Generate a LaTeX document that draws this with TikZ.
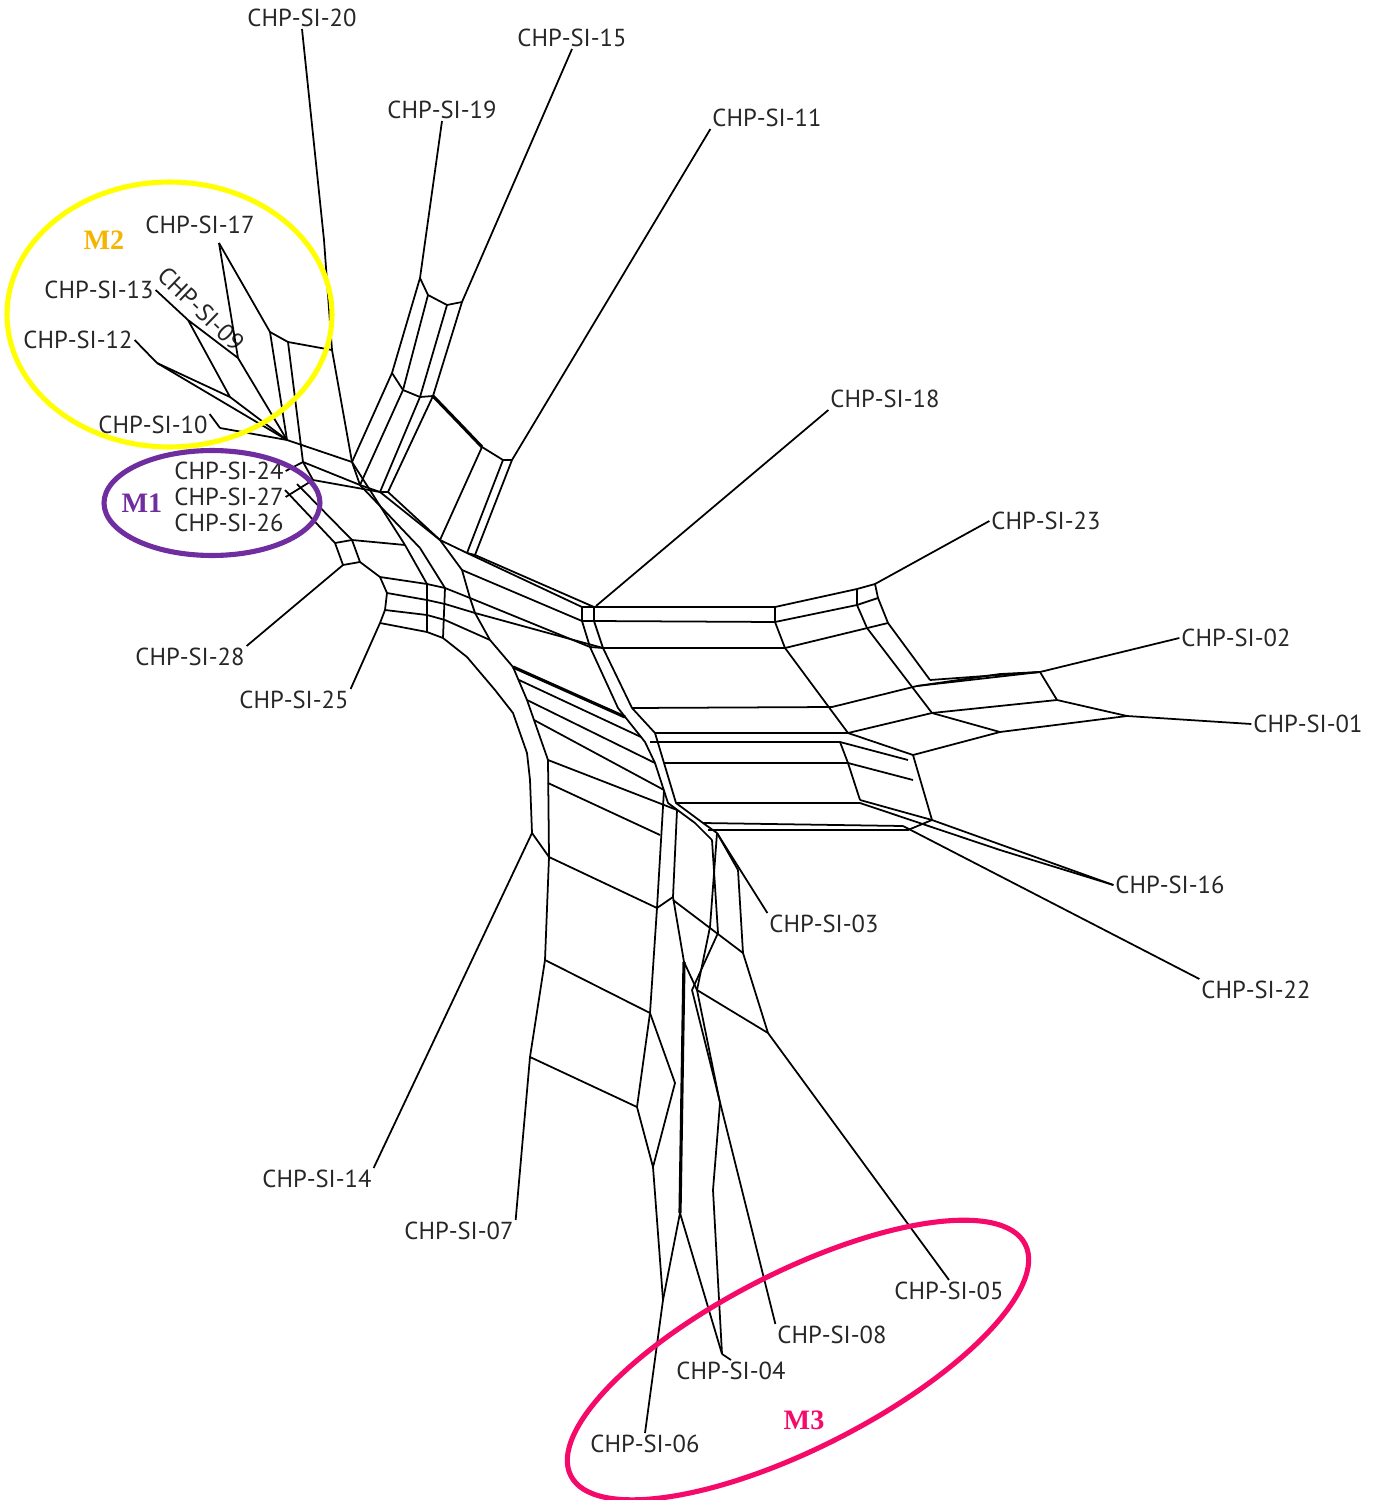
\documentclass[tikz,border=0pt]{standalone}
\usepackage{fontspec}
\setmainfont{Liberation Serif}
\newfontfamily\leaffont{PT Sans}
\usetikzlibrary{positioning}
\definecolor{mtwo}{HTML}{F5B400}
\definecolor{mone}{HTML}{6F2DA0}
\definecolor{mthree}{HTML}{F50A6A}
\definecolor{ringyellow}{HTML}{FFFF00}
\tikzset{
  leaf/.style={font=\leaffont\fontsize{14}{16}\selectfont, text=black!85, inner sep=1pt},
  net/.style={draw=black, line width=1pt, line join=round},
  netthick/.style={draw=black, line width=1.8pt, line join=round},
  ring/.style={line width=2.9pt},
  grouplabel/.style={font=\bfseries\fontsize{16}{18}\selectfont}
}
\begin{document}
\begin{tikzpicture}[x=0.02cm,y=-0.02cm]
\useasboundingbox (0,0) rectangle (1377,1500);

% leaf labels
\node[leaf] (l20) at (302,18) {CHP-SI-20};
\node[leaf] (l15) at (572,38) {CHP-SI-15};
\node[leaf] (l19) at (442,110) {CHP-SI-19};
\node[leaf] (l11) at (767,118) {CHP-SI-11};
\node[leaf] (l17) at (200,225) {CHP-SI-17};
\node[leaf] (l13) at (99,290) {CHP-SI-13};
\node[leaf, rotate=-44] (l09) at (201,309) {CHP-SI-09};
\node[leaf] (l12) at (78,340) {CHP-SI-12};
\node[leaf] (l10) at (153,425) {CHP-SI-10};
\node[leaf] (l24) at (229,471) {CHP-SI-24};
\node[leaf] (l27) at (229,497) {CHP-SI-27};
\node[leaf] (l26) at (229,523) {CHP-SI-26};
\node[leaf] (l28) at (190,657) {CHP-SI-28};
\node[leaf] (l25) at (294,700) {CHP-SI-25};
\node[leaf] (l18) at (885,399) {CHP-SI-18};
\node[leaf] (l23) at (1046,521) {CHP-SI-23};
\node[leaf] (l02) at (1236,638) {CHP-SI-02};
\node[leaf] (l01) at (1308,724) {CHP-SI-01};
\node[leaf] (l16) at (1170,885) {CHP-SI-16};
\node[leaf] (l22) at (1256,990) {CHP-SI-22};
\node[leaf] (l03) at (824,924) {CHP-SI-03};
\node[leaf] (l14) at (317,1179) {CHP-SI-14};
\node[leaf] (l07) at (459,1231) {CHP-SI-07};
\node[leaf] (l05) at (949,1291) {CHP-SI-05};
\node[leaf] (l08) at (832,1335) {CHP-SI-08};
\node[leaf] (l04) at (731,1371) {CHP-SI-04};
\node[leaf] (l06) at (645,1444) {CHP-SI-06};

% split vertices at the ends of the pendant edges
\coordinate (t20) at (352,462);
\coordinate (t19) at (420,278);
\coordinate (t15) at (462,302);
\coordinate (t11) at (512,460);
\coordinate (t17) at (219,243);
\coordinate (t13) at (188,320);
\coordinate (t09) at (238,358);
\coordinate (t12) at (157,363);
\coordinate (t10) at (220,428);
\coordinate (hub) at (287,440);
\coordinate (t28) at (343,565);
\coordinate (t25) at (380,623);
\coordinate (t18) at (596,606);
\coordinate (t23) at (875,584);
\coordinate (t02) at (1040,672);
\coordinate (t01) at (1127,716);
\coordinate (t16) at (932,820);
\coordinate (t22) at (903,826);
\coordinate (t03) at (717,833);
\coordinate (t14) at (532,833);
\coordinate (t07) at (530,1057);
\coordinate (t06) at (663,1300);
\coordinate (t04) at (722,1354);
\coordinate (t08) at (692,990);
\coordinate (t05) at (768,1033);

% pendant edges
\draw[net] (l20.south) -- (324,240) -- (332,350) -- (t20);
\draw[net] (l19.south) -- (t19);
\draw[net] (l15.south) -- (t15);
\draw[net] (l11.south west) -- (t11);
\draw[net] (l13.east) -- (t13);
\draw[net] (l12.east) -- (t12);
\draw[net] (l10.north east) -- (t10);
\draw[net] (l28.north east) -- (t28);
\draw[net] (l25.north east) -- (t25);
\draw[net] (l18.south west) -- (t18);
\draw[net] (l23.west) -- (t23);
\draw[net] (l02.west) -- (t02);
\draw[net] (l01.west) -- (t01);
\draw[net] (l16.west) -- (t16);
\draw[net] (l22.north west) -- (t22);
\draw[net] (l03.north west) -- (t03);
\draw[net] (l14.north east) -- (t14);
\draw[net] (l07.north east) -- (t07);
\draw[net] (l05.north) -- (t05);
\draw[net] (l08.north west) -- (t08);
\draw[net] (l06.north) -- (t06);
\draw[net] (l04.north) -- (t04);

% M2 cluster
\draw[net] (t17) -- (t09) -- (t13) -- (230,397) -- (t12);
\draw[net] (t17) -- (270,332) -- (288,342) -- (332,350);
\draw[net] (t09) -- (hub);
\draw[net] (230,397) -- (hub);
\draw[net] (t12) -- (hub);
\draw[net] (t10) -- (hub);
\draw[net] (270,332) -- (hub);
\draw[net] (288,342) -- (303,462);

% M1 cluster
\draw[net] (l24.east) -- (303,462);
\draw[net] (l27.east) -- (313,480);
\draw[net] (285,490) -- (335,543);
\draw[net] (297,484) -- (352,540);
\draw[net] (335,543) -- (352,540) -- (360,562) -- (t28) -- cycle;

% 19 / 15 box
\draw[net] (t19) -- (428,295) -- (447,305) -- (t15);
\draw[net] (t19) -- (392,373) -- (t20);
\draw[net] (428,295) -- (403,390) -- (360,485);
\draw[net] (447,305) -- (420,397) -- (380,492);
\draw[net] (t15) -- (433,396) -- (388,492);
\draw[net] (392,373) -- (403,390) -- (420,397) -- (433,396);
\draw[net] (t20) -- (360,485) -- (380,492) -- (388,492);

% 11 box
\draw[netthick] (433,396) -- (460,424) -- (482,447);
\draw[net] (482,447) -- (503,460) -- (t11);
\draw[net] (482,447) -- (440,540);
\draw[net] (503,460) -- (467,553);
\draw[net] (t11) -- (475,555);
\draw[net] (388,492) -- (440,540) -- (467,553) -- (475,555);

% band from the hub to the core
\draw[net] (hub) -- (t20) -- (405,545);
\draw[net] (303,462) -- (360,485) -- (420,548);
\draw[net] (313,480) -- (380,492) -- (440,540);
\draw[net] (303,462) -- (313,480);

% core grid
\draw[net] (360,562) -- (380,577) -- (387,593) -- (385,610) -- (t25);
\draw[net] (380,577) -- (427,584) -- (445,588) -- (470,598);
\draw[net] (387,593) -- (427,600) -- (445,604) -- (475,613);
\draw[net] (385,610) -- (427,615) -- (445,620) -- (490,640);
\draw[net] (t25) -- (427,632) -- (443,638) -- (467,657) -- (495,690) -- (513,713) -- (527,753);
\draw[net] (405,545) -- (427,584) -- (427,632);
\draw[net] (420,548) -- (445,588) -- (443,638);
\draw[net] (440,540) -- (462,570) -- (470,598) -- (475,613) -- (490,640);
\draw[net] (352,540) -- (405,545);

% band to the upper block
\draw[net] (467,553) -- (582,607);
\draw[net] (475,555) -- (594,607);
\draw[net] (462,570) -- (582,621);
\draw[net] (470,598) -- (590,647);
\draw[net] (475,613) -- (603,648);

% upper block
\draw[net] (582,607) -- (594,607) -- (775,607) -- (857,589) -- (t23);
\draw[net] (582,621) -- (594,621) -- (775,622) -- (857,605) -- (878,598);
\draw[net] (590,647) -- (603,648) -- (785,648) -- (888,623);
\draw[net] (582,607) -- (582,621) -- (590,647);
\draw[net] (594,607) -- (594,621) -- (603,648);
\draw[net] (775,607) -- (775,622) -- (785,648) -- (848,733);
\draw[net] (857,589) -- (857,605) -- (867,628) -- (932,713);
\draw[net] (t23) -- (878,598) -- (888,623) -- (930,680);

% right part
\draw[net] (832,707) -- (917,686) -- (t02);
\draw[net] (930,680) -- (t02);
\draw[net] (917,686) -- (1000,674) -- (t02);
\draw[net] (t02) -- (1057,700) -- (t01);
\draw[net] (932,713) -- (1057,700);
\draw[net] (932,713) -- (1000,732) -- (t01);
\draw[net] (848,733) -- (932,713);
\draw[net] (848,733) -- (913,755) -- (1000,732);
\draw[net] (840,742) -- (908,760);
\draw[net] (840,742) -- (848,763) -- (860,800);
\draw[net] (913,755) -- (932,820);
\draw[net] (848,763) -- (913,780);
\draw[net] (860,800) -- (t16);
\draw[net] (860,803) -- (1000,850) -- (l16.west);

% middle block
\draw[net] (590,647) -- (618,708) -- (645,742) -- (655,763) -- (668,803) -- (695,823) -- (712,840);
\draw[net] (603,648) -- (632,708) -- (655,733) -- (664,763) -- (676,803) -- (703,823) -- (t03);
\draw[net] (632,708) -- (832,707);
\draw[net] (655,733) -- (848,733);
\draw[net] (650,742) -- (840,742);
\draw[net] (664,763) -- (848,763);
\draw[net] (676,803) -- (860,803);
\draw[net] (703,823) -- (t22);
\draw[net] (708,830) -- (908,830) -- (t16);

% lower trunk
\draw[netthick] (513,667) -- (625,717);
\draw[net] (490,640) -- (513,667) -- (527,700) -- (548,760) -- (549,857);
\draw[net] (519,680) -- (641,737);
\draw[net] (527,700) -- (655,763);
\draw[net] (534,720) -- (664,790);
\draw[net] (548,760) -- (677,810);
\draw[net] (527,753) -- (530,780) -- (t14);

% south
\draw[net] (t14) -- (549,857);
\draw[net] (549,857) -- (545,960) -- (t07);
\draw[net] (548,783) -- (660,835);
\draw[net] (549,857) -- (657,908);
\draw[net] (545,960) -- (650,1013);
\draw[net] (t07) -- (637,1107);
\draw[net] (664,790) -- (657,908) -- (650,1013) -- (637,1107) -- (653,1167) -- (t06);
\draw[net] (650,1013) -- (675,1083) -- (653,1167);
\draw[net] (677,810) -- (673,897) -- (684,962);
\draw[net] (657,908) -- (673,897);
\draw[net] (t06) -- (680,1213) -- (t04);
\draw[netthick] (684,962) -- (680,1213);
\draw[net] (684,962) -- (697,990) -- (720,1103) -- (713,1190) -- (t04);
\draw[net] (t03) -- (710,927) -- (697,990);
\draw[net] (712,840) -- (718,933) -- (t08);
\draw[net] (738,870) -- (743,953) -- (t05);
\draw[net] (673,900) -- (743,953);
\draw[net] (697,990) -- (t05);
\draw[net] (t03) -- (738,870);

% groups
\draw[ring, ringyellow] (169.5,314.5) ellipse [x radius=3.25cm, y radius=2.65cm];
\draw[ring, mone] (212,503) ellipse [x radius=2.16cm, y radius=1.05cm];
\draw[ring, mthree, rotate around={27:(798,1360)}] (798,1360) ellipse [x radius=5.1cm, y radius=1.76cm];
\node[grouplabel, text=mtwo] (m2) at (104,240) {M2};
\node[grouplabel, text=mone] (m1) at (142,503) {M1};
\node[grouplabel, text=mthree] (m3) at (804,1420) {M3};
\end{tikzpicture}
\end{document}
